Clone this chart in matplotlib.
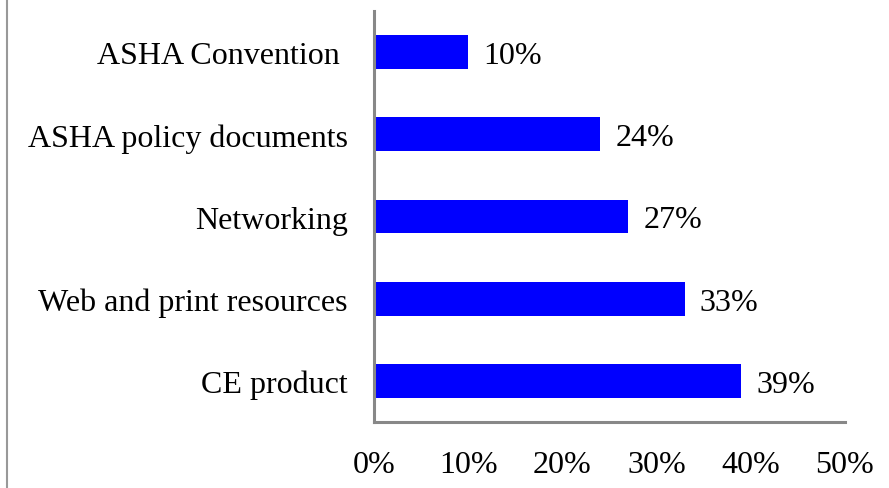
import matplotlib
matplotlib.use("Agg")
import matplotlib.pyplot as plt
from matplotlib.lines import Line2D
import numpy as np

# Data (bottom to top as drawn)
categories = ["CE product", "Web and print resources", "Networking",
              "ASHA policy documents", "ASHA Convention "]
values = [39, 33, 27, 24, 10]
xticks = [0, 10, 20, 30, 40, 50]

plt.rcParams['font.family'] = ['Liberation Serif', 'DejaVu Serif']

fig = plt.figure(figsize=(8.89, 4.89), dpi=100)
ax = fig.add_axes([374 / 889, 1 - 423 / 489, (845 - 374) / 889, (423 - 12) / 489])

y = np.arange(len(categories))
ax.barh(y, values, height=0.41, color='#0000FF')

for yi, v in zip(y, values):
    ax.text(v + 1.6, yi, f"{v}%", va='center_baseline', ha='left', fontsize=23)

ax.set_xlim(0, 50)
ax.set_ylim(-0.5, len(categories) - 0.5)
ax.set_yticks(y)
ax.set_yticklabels(categories, fontsize=23)
ax.set_xticks(xticks)
ax.set_xticklabels([f"{t}%" for t in xticks], fontsize=23)
ax.tick_params(axis='y', length=0, pad=19)
ax.tick_params(axis='x', length=0, pad=20)

for s in ['top', 'right']:
    ax.spines[s].set_visible(False)
for s in ['left', 'bottom']:
    ax.spines[s].set_color('#888888')
    ax.spines[s].set_linewidth(2.2)

# outer border line on the left
fig.add_artist(Line2D([7 / 889, 7 / 889], [0, 1], transform=fig.transFigure,
                      color='#999999', linewidth=1.5))

fig.savefig("out.png", dpi=100)
plt.close(fig)
